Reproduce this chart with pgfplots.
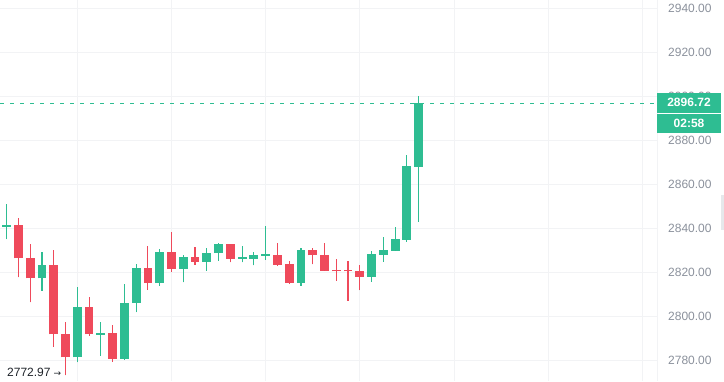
\documentclass[border=0pt]{standalone}
\usepackage{fontspec}
\setmainfont{Liberation Sans}
\newfontfamily\dejavu{DejaVu Sans}
\usepackage{pgfplots}
\usepackage{pgfplotstable}
\pgfplotsset{compat=1.18}
\definecolor{cgreen}{HTML}{2EBD92}
\definecolor{cred}{HTML}{EF4A5B}
\definecolor{cgrid}{HTML}{F2F3F5}
\definecolor{ctick}{HTML}{8A909B}
\definecolor{cdark}{HTML}{1E2329}
\definecolor{chandle}{HTML}{E6E8EB}

% green (rising) candles: index, open, high, low, close
\pgfplotstableread{
x  o       h       l       c
1  2840.5  2850.9  2834.9  2841.4
4  2817.1  2829.0  2811.5  2823.0
7  2781.2  2813.3  2779.0  2804.0
9  2791.5  2797.1  2782.0  2792.2
11 2780.5  2814.5  2780.1  2805.8
12 2805.8  2823.6  2801.8  2821.8
14 2814.9  2830.3  2813.8  2829.1
16 2821.5  2827.6  2815.3  2826.7
18 2824.7  2830.9  2820.6  2828.6
19 2828.6  2833.0  2825.1  2832.7
21 2826.0  2831.8  2824.4  2826.7
22 2826.0  2829.1  2823.0  2827.6
23 2827.4  2840.9  2825.6  2828.2
26 2815.1  2830.8  2813.8  2830.0
32 2817.9  2829.4  2815.6  2828.2
33 2827.9  2835.7  2824.7  2829.8
34 2829.7  2840.5  2829.7  2834.8
35 2834.7  2873.0  2833.8  2868.2
36 2867.9  2900.0  2842.9  2896.72
}\greendata

% red (falling) candles: index, open, high, low, close
\pgfplotstableread{
x  o       h       l       c
2  2841.4  2844.4  2817.6  2826.2
3  2826.2  2832.7  2806.2  2817.1
5  2823.0  2829.8  2786.0  2791.7
6  2791.7  2797.4  2772.97 2781.2
8  2804.0  2808.5  2791.0  2791.7
10 2792.1  2795.9  2779.2  2780.5
13 2821.8  2831.7  2812.0  2814.9
15 2829.1  2838.2  2820.1  2821.5
17 2826.7  2831.2  2823.3  2824.7
20 2832.7  2832.9  2824.4  2826.0
24 2827.7  2833.0  2822.9  2823.3
25 2823.6  2825.0  2814.7  2815.1
27 2830.0  2830.9  2823.5  2827.6
28 2827.7  2833.0  2820.6  2820.6
29 2820.9  2825.9  2816.0  2820.3
30 2820.9  2825.0  2806.9  2820.3
31 2820.5  2823.2  2811.8  2817.9
}\reddata

\pgfplotsset{
  candle/.style 2 args={only marks, mark=*, mark size=0pt,
    mark options={draw=none, fill=none}, forget plot,
    error bars/.cd, y dir=plus, y explicit, error mark=none,
    error bar style={draw=#1, line width=#2, solid}},
}

\begin{document}
\begin{tikzpicture}[x=1bp,y=1bp]
\useasboundingbox (0,0) rectangle (724,381);
\begin{axis}[
  at={(0,0)}, anchor=south west,
  scale only axis, width=657bp, height=381bp,
  xmin=0.431, xmax=56.25,
  ymin=2770.45, ymax=2943.64,
  axis line style={draw=none},
  xtick={7,15,23,31,39,47,55}, xticklabels={},
  ytick={2780,2800,...,2940},
  yticklabel pos=right,
  major tick length=0pt,
  xmajorgrids, ymajorgrids,
  grid style={draw=cgrid, line width=0.8bp},
  yticklabel style={anchor=west, inner sep=0pt, xshift=11bp,
    font=\fontsize{12bp}{14bp}\selectfont, text=ctick},
  /pgf/number format/.cd, fixed, fixed zerofill, precision=2, 1000 sep={},
  assume math mode=true,
]
\addplot[cgreen, dash pattern=on 4bp off 6bp, line width=1bp, forget plot]
  coordinates {(0.431,2896.72) (56.25,2896.72)};
% wicks
\addplot[candle={cgreen}{1.1bp}]
  table[x=x, y=l, y error plus expr=\thisrow{h}-\thisrow{l}] {\greendata};
\addplot[candle={cred}{1.1bp}]
  table[x=x, y=l, y error plus expr=\thisrow{h}-\thisrow{l}] {\reddata};
% bodies
\addplot[candle={cgreen}{8.8bp}]
  table[x=x, y=o, y error plus expr=\thisrow{c}-\thisrow{o}] {\greendata};
\addplot[candle={cred}{8.8bp}]
  table[x=x, y=c, y error plus expr=\thisrow{o}-\thisrow{c}] {\reddata};
\end{axis}
\draw[cgrid, line width=0.8bp] (657,0) -- (657,381);
% price tag
\fill[cgreen] (657,268.3) rectangle (721,288.3);
\node[text=white, font=\fontsize{12bp}{14bp}\selectfont\bfseries] at (689,278.3) {2896.72};
\fill[cgreen] (657,247.7) rectangle (721,267.3);
\node[text=white, font=\fontsize{12bp}{14bp}\selectfont\bfseries] at (689,257.5) {02:58};
% low marker
\node[anchor=west, inner sep=0pt, text=cdark, font=\fontsize{12bp}{14bp}\selectfont] at (7,9) {2772.97\hspace{3bp}{\dejavu\fontsize{9bp}{11bp}\selectfont →}};
% scroll handle
\fill[chandle] (720.5,151) rectangle (724,186);
\end{tikzpicture}
\end{document}
